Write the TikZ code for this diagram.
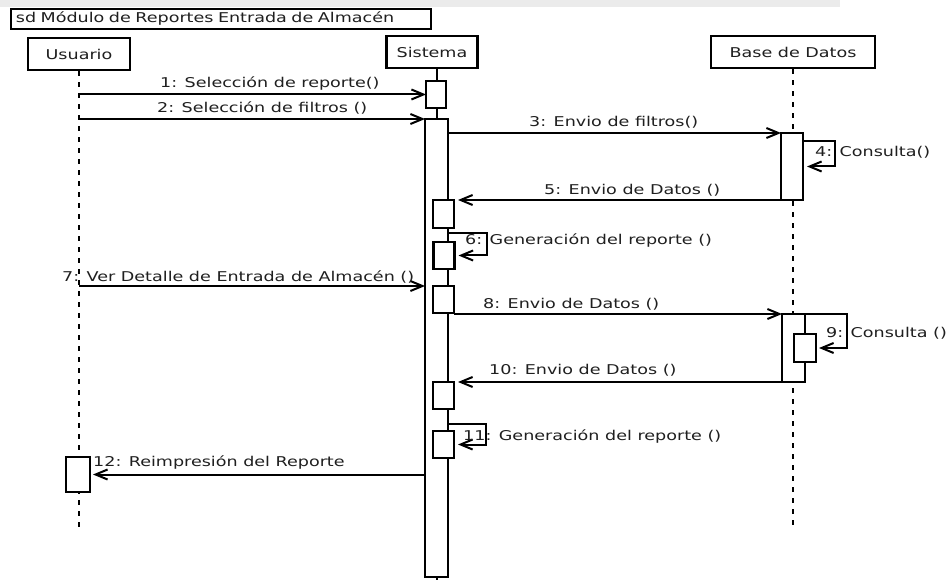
\documentclass[tikz,border=0pt]{standalone}
\usepackage{fontspec}
\newfontfamily\umlfont[FakeStretch=1.3]{DejaVu Sans}
\usetikzlibrary{arrows.meta,calc}
\begin{document}
\begin{tikzpicture}[x=1pt,y=-1pt,
  every node/.style={font=\umlfont\fontsize{13.5}{16}\selectfont, text=black!88},
  head/.style={draw, line width=2.4pt, fill=white, inner sep=0pt, minimum height=32pt},
  act/.style={draw, line width=2.8pt, fill=white, inner sep=0pt, outer sep=0pt},
  life/.style={line width=1.8pt, dash pattern=on 5pt off 6pt},
  solidlife/.style={line width=1.8pt},
  msg/.style={line width=2pt, -{Straight Barb[length=12pt,width=10pt,line width=2pt]}},
  lbl/.style={anchor=base west, inner sep=0pt},
]
\useasboundingbox (0,0) rectangle (948,580);
\fill[black!8] (0,0) rectangle (840,7);

% frame title
\node[draw, line width=1.8pt, anchor=north west, inner xsep=5pt, inner ysep=0pt,
      text width=410pt, align=left, minimum height=20pt] (frame) at (10,8)
      {sd Módulo de Reportes Entrada de Almacén};

% lifeline heads
\node[head, minimum width=102pt] (usr) at (79,54) {Usuario};
\node[head, minimum width=91pt] (sys) at (432,52) {Sistema};
\node[head, minimum width=164pt] (bd) at (793,52) {Base de Datos};

% lifeline ends
\coordinate (uend) at (79,527);
\coordinate (send) at (437,580);
\coordinate (dend) at (793,530);

% lifelines
\draw[life] (usr.south) -- (uend);
\draw[solidlife] (sys.south -| send) -- (send);
\draw[life] (bd.south) -- (dend);

% activations
\node[act, minimum width=20pt, minimum height=27pt] (a1) at (436,94.5) {};
\node[act, minimum width=23pt, minimum height=458pt] (big) at (436.5,348) {};
\node[act, minimum width=21pt, minimum height=28pt] (a5) at (443.5,214) {};
\node[act, minimum width=21pt, minimum height=27pt] (a6) at (444,255.5) {};
\node[act, minimum width=21pt, minimum height=27pt] (a7) at (443.5,299.5) {};
\node[act, minimum width=21pt, minimum height=27pt] (a10) at (443.5,395.5) {};
\node[act, minimum width=21pt, minimum height=27pt] (a11) at (443.5,444.5) {};
\node[act, minimum width=22pt, minimum height=67pt] (d1) at (792,166.5) {};
\node[act, minimum width=23pt, minimum height=68pt] (d2) at (793.5,348) {};
\node[act, minimum width=22pt, minimum height=28pt] (d9) at (805,348) {};
\node[act, minimum width=24pt, minimum height=35pt] (u12) at (78,474.5) {};

% messages
\draw[msg] (usr.south |- a1.west) -- (a1.west);
\draw[msg] (usr.south |- big.north west) -- (big.north west);
\draw[msg] (big.east |- d1.north) -- (d1.north west);
\draw[msg] ($(d1.north east)+(0,8)$) -- ++(32,0) |- ([xshift=4pt]d1.east);
\draw[msg] (d1.south west) -- ([xshift=4pt]a5.north east |- d1.south west);
\draw[msg] ($(big.east |- a6.north)+(0,-9)$) -- ++(39,0) |- ([xshift=4pt]a6.east);
\draw[msg] (usr.south |- a7.north) -- (big.west |- a7.north);
\draw[msg] (a7.south east |- d2.north west) -- (d2.north west);
\draw[msg] (d2.north east) -- ++(42,0) |- ([xshift=3pt]d9.east);
\draw[msg] (d2.south west) -- ([xshift=4pt]a10.north east |- d2.south west);
\draw[msg] ($(big.east |- a11.north)+(0,-7)$) -- ++(38,0) |- ([xshift=4pt]a11.east);
\draw[msg] (big.west |- u12.east) -- ([xshift=3pt]u12.east);

% message labels
\node[lbl] (l1) at (160,87.5) {1: Selección de reporte()};
\node[lbl] (l2) at (157,112.5) {2: Selección de filtros ()};
\node[lbl] (l3) at (529,127) {3: Envio de filtros()};
\node[lbl] (l4) at (815,157) {4: Consulta()};
\node[lbl] (l5) at (544,195) {5: Envio de Datos ()};
\node[lbl] (l6) at (465,245) {6: Generación del reporte ()};
\node[lbl] (l7) at (62,281) {7: Ver Detalle de Entrada de Almacén ()};
\node[lbl] (l8) at (483,308.5) {8: Envio de Datos ()};
\node[lbl] (l9) at (826,337.5) {9: Consulta ()};
\node[lbl] (l10) at (489,374.5) {10: Envio de Datos ()};
\node[lbl] (l11) at (463,440) {11: Generación del reporte ()};
\node[lbl] (l12) at (93,466) {12: Reimpresión del Reporte};
\end{tikzpicture}
\end{document}
